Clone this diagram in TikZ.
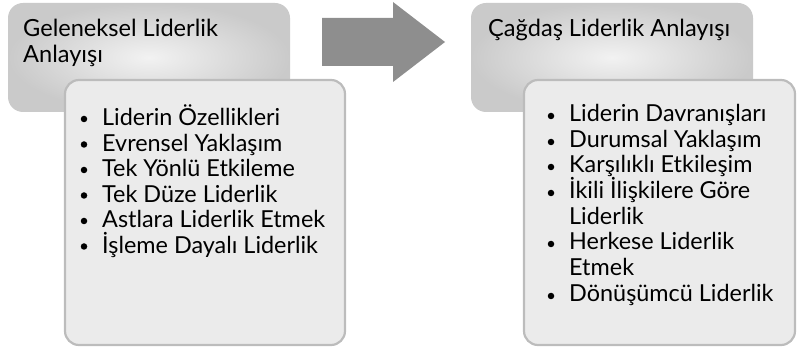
\documentclass[tikz,border=0pt]{standalone}
\usepackage{fontspec}
\setmainfont{Lato}
\definecolor{hdredge}{HTML}{CACACA}
\definecolor{hdrmid}{HTML}{F2F2F2}
\definecolor{listfill}{HTML}{EBEBEB}
\definecolor{listline}{HTML}{BCBCBC}
\definecolor{arrowgray}{HTML}{8E8E8E}
\tikzset{
  hdrbox/.style={rounded corners=15pt, inner sep=0pt, outer sep=0pt,
    shading=radial, inner color=hdrmid, outer color=hdredge, anchor=north west},
  listbox/.style={rounded corners=14pt, inner sep=0pt, outer sep=0pt,
    fill=listfill, draw=listline, line width=2.2pt, anchor=north west},
  hdrtext/.style={anchor=base west, inner sep=0pt, font=\fontsize{23.6}{26}\selectfont},
  item/.style={anchor=base west, inner sep=0pt, font=\fontsize{23.4}{26}\selectfont},
  dot/.style={circle, fill=black, inner sep=0pt, minimum size=6.5pt},
}
\begin{document}
\begin{tikzpicture}[x=1pt,y=-1pt]
\useasboundingbox (0,0) rectangle (798,355);

% left column: heading card and its list
\node[hdrbox, minimum width=282pt, minimum height=109pt] (hl) at (8,3) {};
\node[hdrtext] (hlt1) at (23,37) {Geleneksel Liderlik};
\node[hdrtext] (hlt2) at (23,63) {Anlayışı};
\node[listbox, minimum width=280pt, minimum height=265pt] (bl) at (65,80) {};
\foreach \t [count=\i] in {Liderin Özellikleri, Evrensel Yaklaşım, Tek Yönlü Etkileme,
    Tek Düze Liderlik, Astlara Liderlik Etmek, İşleme Dayalı Liderlik} {
  \pgfmathsetmacro{\yy}{126+25.5*(\i-1)}
  \node[item] (li\i) at (102,\yy) {\t};
  \node[dot] (ld\i) at (84,\yy-7) {};
}

% block arrow between the columns
\fill[arrowgray] (322,18) -- (393,18) -- (393,2) -- (445,42) -- (393,82) -- (393,66) -- (322,66) -- cycle;

% right column: heading card and its list
\node[hdrbox, minimum width=282pt, minimum height=109pt] (hr) at (471,3) {};
\node[hdrtext] (hrt) at (488,37) {Çağdaş Liderlik Anlayışı};
\node[listbox, minimum width=271pt, minimum height=265pt] (br) at (524,80) {};
\foreach \t/\y [count=\i] in {Liderin Davranışları/122, Durumsal Yaklaşım/148,
    Karşılıklı Etkileşim/173, İkili İlişkilere Göre/199, Herkese Liderlik/250,
    Dönüşümcü Liderlik/302} {
  \node[item] (ri\i) at (569,\y) {\t};
  \node[dot] (rd\i) at (551,\y-6) {};
}
\node[item] (ri4b) at (569,225) {Liderlik};
\node[item] (ri5b) at (569,276) {Etmek};
\end{tikzpicture}
\end{document}
